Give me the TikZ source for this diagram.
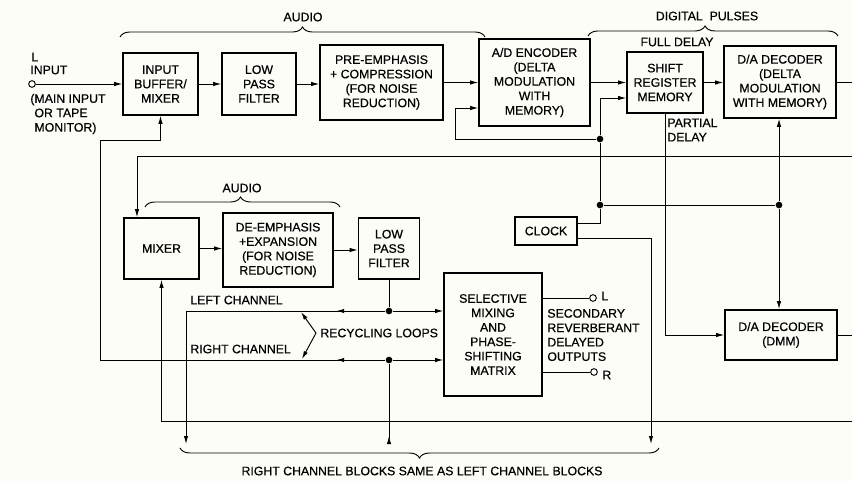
\documentclass[tikz,border=0pt]{standalone}
\usepackage{fontspec}
\setmainfont{Liberation Sans}[FakeBold=0.5]
\usetikzlibrary{arrows.meta,decorations.pathreplacing,decorations.markings}

\begin{document}
\begin{tikzpicture}[x=0.03cm,y=-0.03cm,line width=0.8pt,
  font=\fontsize{10.5pt}{12.3pt}\selectfont,
  block/.style={draw,line width=1.3pt,align=center,inner sep=1pt},
  arr/.style={-{Latex[length=2.4mm,width=1.3mm]}},
  rarr/.style={-{Latex[length=2.4mm,width=1.3mm,reversed]}},
  dot/.style={circle,fill,inner sep=0pt,minimum size=0.2cm},
  port/.style={circle,draw,fill=white,inner sep=0pt,minimum size=0.2cm},
  midarr/.style={postaction={decorate},decoration={markings,mark=at position #1 with {\arrow{Latex[length=2.4mm,width=1.3mm]}}}},
  cbrace/.style={decorate,decoration={brace,amplitude=0.3cm,aspect=#1}}]
\fill[fill={rgb,255:red,253;green,253;blue,247}] (0,0) rectangle (852,481);
\useasboundingbox (0,0) rectangle (852,481);

% upper chain
\node[block,minimum width=2.25cm,minimum height=1.86cm] (buf) at (160.5,84) {INPUT\\BUFFER/\\MIXER};
\node[block,minimum width=2.22cm,minimum height=1.86cm] (lpfa) at (259,84) {LOW\\PASS\\FILTER};
\node[block,minimum width=3.69cm,minimum height=2.25cm] (pre) at (381.5,82.5) {PRE-EMPHASIS\\+ COMPRESSION\\(FOR NOISE\\REDUCTION)};
\node[block,minimum width=3.33cm,minimum height=2.61cm] (enc) at (534.5,82.5) {A/D ENCODER\\(DELTA\\MODULATION\\WITH\\MEMORY)};
\node[block,minimum width=2.28cm,minimum height=1.83cm] (shr) at (665,82.5) {SHIFT\\REGISTER\\MEMORY};
\node[block,minimum width=3.36cm,minimum height=2.16cm] (dec) at (780,82) {D/A DECODER\\(DELTA\\MODULATION\\WITH MEMORY)};

% lower chain
\node[block,minimum width=2.25cm,minimum height=1.83cm] (mix) at (161.5,248.5) {MIXER};
\node[block,minimum width=3.3cm,minimum height=2.22cm] (deemph) at (278,250) {DE-EMPHASIS\\+EXPANSION\\(FOR NOISE\\REDUCTION)};
\node[block,minimum width=1.83cm,minimum height=1.83cm] (lpfb) at (389,248.5) {LOW\\PASS\\FILTER};
\node[block,minimum width=1.86cm,minimum height=0.84cm] (clock) at (546,231) {CLOCK};
\node[block,minimum width=2.94cm,minimum height=3.69cm] (matrix) at (493,334.5) {SELECTIVE\\MIXING\\AND\\PHASE-\\SHIFTING\\MATRIX};
\node[block,minimum width=3.36cm,minimum height=1.5cm] (dmm) at (781,335) {D/A DECODER\\(DMM)};

% ports, junctions, free ends
\node[port] (inp) at (32,84) {};
\node[port] (oL) at (593,298) {};
\node[port] (oR) at (594,372) {};
\node[dot] (j1) at (600,139) {};
\node[dot] (j2) at (600,205) {};
\node[dot] (j3) at (779,205) {};
\node[dot] (jL) at (389,311) {};
\node[dot] (jR) at (389,360) {};
\coordinate (rA) at (852,82);
\coordinate (rB) at (852,156);
\coordinate (rC) at (852,421);
\coordinate (rD) at (852,335);
\coordinate (clkA) at ([yshift=0.24cm]clock.east);
\coordinate (clkB) at ([yshift=-0.21cm]clock.east);
\coordinate (clkEnd) at (651,444);
\coordinate (shrIn) at ([yshift=-0.465cm]shr.west);
\coordinate (encIn) at ([yshift=-0.765cm]enc.west);
\coordinate (fbCorner) at (455,139);
\coordinate (mixIn) at ([xshift=-0.735cm]mix.north);
\coordinate (bufRet) at (100,140);
\coordinate (rchW) at (100,360);
\coordinate (lchEnd) at (186,444);
\coordinate (rchEnd) at (389,444);
\coordinate (recC) at (316,333);
\coordinate (recL) at (301,312);
\coordinate (recR) at (302,359);

% signal path
\draw[arr] (inp) -- (buf);
\draw[arr] (buf) -- (lpfa);
\draw[arr] (lpfa.east) -- (lpfa.east -| pre.west);
\draw[arr] (pre) -- (enc);
\draw[arr] (enc) -- (enc -| shr.west);
\draw[arr] (shr) -- (shr -| dec.west);
\draw (dec.east) -- (rA);
\draw[arr] (shr.south) |- (dmm.west);
\draw (dmm.east) -- (rD);

% clock
\draw[arr] (clkA) -| (j2) -- (j1) |- (shrIn);
\draw[arr] (j1) -- (fbCorner) |- (encIn);
\draw (j2) -- (j3);
\draw[arr] (j3) -- (j3 |- dec.south);
\draw[arr] (j3) -- (j3 |- dmm.north);
\draw[arr] (clkB) -| (clkEnd);

% returns and recycling loops
\draw[arr] (rB) -| (mixIn);
\draw[arr] (rC) -| (mix.south);
\draw[arr] (mix) -- (mix -| deemph.west);
\draw[arr] (deemph) -- (deemph -| lpfb.west);
\draw (lpfb) -- (jL);
\draw[arr] (jL) -- (jL -| matrix.west);
\draw[arr] (jR) -- (jR -| matrix.west);
\draw[arr,midarr=1.47cm] (jL) -| (lchEnd);
\draw[arr,midarr=1.47cm] (jR) -- (rchW) -- (bufRet) -| (buf.south);
\draw[rarr] (jR) -- (rchEnd);
\draw[arr] (recC) -- (recL);
\draw[arr] (recC) -- (recR);
\draw (oL -| matrix.east) -- (oL);
\draw (oR -| matrix.east) -- (oR);

% labels
\node[anchor=west] (tInL) at (27,57) {L};
\node[anchor=west] (tIn) at (26,70) {INPUT};
\node[anchor=west,align=left] (tMain) at (26,114) {(MAIN INPUT\\\phantom{(}OR TAPE\\\phantom{(}MONITOR)};
\node (tAudioA) at (303,17) {AUDIO};
\draw[cbrace=0.5] (120,37) -- (485,37);
\node (tDig) at (707,16) {DIGITAL\ \ PULSES};
\draw[cbrace=0.468] (588,36) -- (838,36);
\node (tFull) at (677,42) {FULL DELAY};
\node[anchor=west,align=left] (tPart) at (663,130) {PARTIAL\\DELAY};
\node (tAudioB) at (242,188) {AUDIO};
\draw[cbrace=0.49] (145,207) -- (340,207);
\node[anchor=west] (tLeft) at (186,300) {LEFT CHANNEL};
\node[anchor=west] (tRight) at (186,349) {RIGHT CHANNEL};
\node[anchor=west] (tRec) at (316,333) {RECYCLING LOOPS};
\node[anchor=west,align=left] (tSec) at (543,335) {SECONDARY\\REVERBERANT\\DELAYED\\OUTPUTS};
\node[anchor=west] (tL) at (597,296) {L};
\node[anchor=west] (tR) at (598,375) {R};
\draw[cbrace=0.5] (659,448) -- (180,448);
\node (tBot) at (422,471) {RIGHT CHANNEL BLOCKS SAME AS LEFT CHANNEL BLOCKS};
\end{tikzpicture}
\end{document}
